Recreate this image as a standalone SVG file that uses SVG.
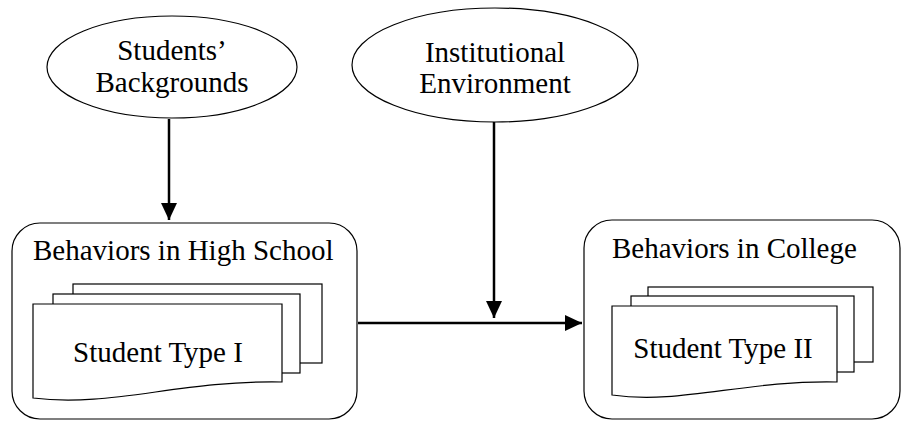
<svg xmlns="http://www.w3.org/2000/svg" width="902" height="421" viewBox="0 0 902 421">
<style>
text{font-family:"Liberation Serif","Times New Roman",serif;font-size:29px;fill:#000}
.shape{fill:#fff;stroke:#000;stroke-width:1.2}
.conn{stroke:#000;stroke-width:2.5;fill:none}
</style>
<defs>
<marker id="arr" markerUnits="userSpaceOnUse" markerWidth="18" markerHeight="18" viewBox="0 0 18 18" refX="17" refY="9" orient="auto">
<path d="M0,1 L17,9 L0,17 Z" fill="#000"/>
</marker>
</defs>
<rect width="902" height="421" fill="#fff"/>
<g id="backgrounds">
<ellipse class="shape" cx="172" cy="67" rx="125" ry="51"/>
<text x="172" y="60" text-anchor="middle">Students’</text>
<text x="172" y="92" text-anchor="middle">Backgrounds</text>
</g>
<g id="environment">
<ellipse class="shape" cx="495" cy="65" rx="143" ry="57"/>
<text x="495" y="62" text-anchor="middle">Institutional</text>
<text x="495" y="93" text-anchor="middle">Environment</text>
</g>
<g id="highschool">
<rect class="shape" x="12" y="223" width="345" height="196" rx="28" ry="28"/>
<text x="33" y="260">Behaviors in High School</text>
<rect class="shape" x="73" y="284" width="249" height="79"/>
<rect class="shape" x="53" y="294" width="247" height="79"/>
<path class="shape" d="M33,304 H282 V382 C180,380 110,408 33,398 Z"/>
<text x="158" y="362" text-anchor="middle">Student Type I</text>
</g>
<g id="college">
<rect class="shape" x="584" y="220" width="316" height="199" rx="28" ry="28"/>
<text x="612" y="258">Behaviors in College</text>
<rect class="shape" x="648" y="287" width="225" height="75"/>
<rect class="shape" x="631" y="296" width="223" height="76"/>
<path class="shape" d="M612,306 H837 V382 C745,380 680,405 612,395 Z"/>
<text x="723" y="358" text-anchor="middle">Student Type II</text>
</g>
<g id="connectors">
<line class="conn" x1="169" y1="119" x2="169" y2="220" marker-end="url(#arr)"/>
<line class="conn" x1="494" y1="122" x2="494" y2="318" marker-end="url(#arr)"/>
<line class="conn" x1="358" y1="323" x2="582" y2="323" marker-end="url(#arr)"/>
</g>
</svg>
